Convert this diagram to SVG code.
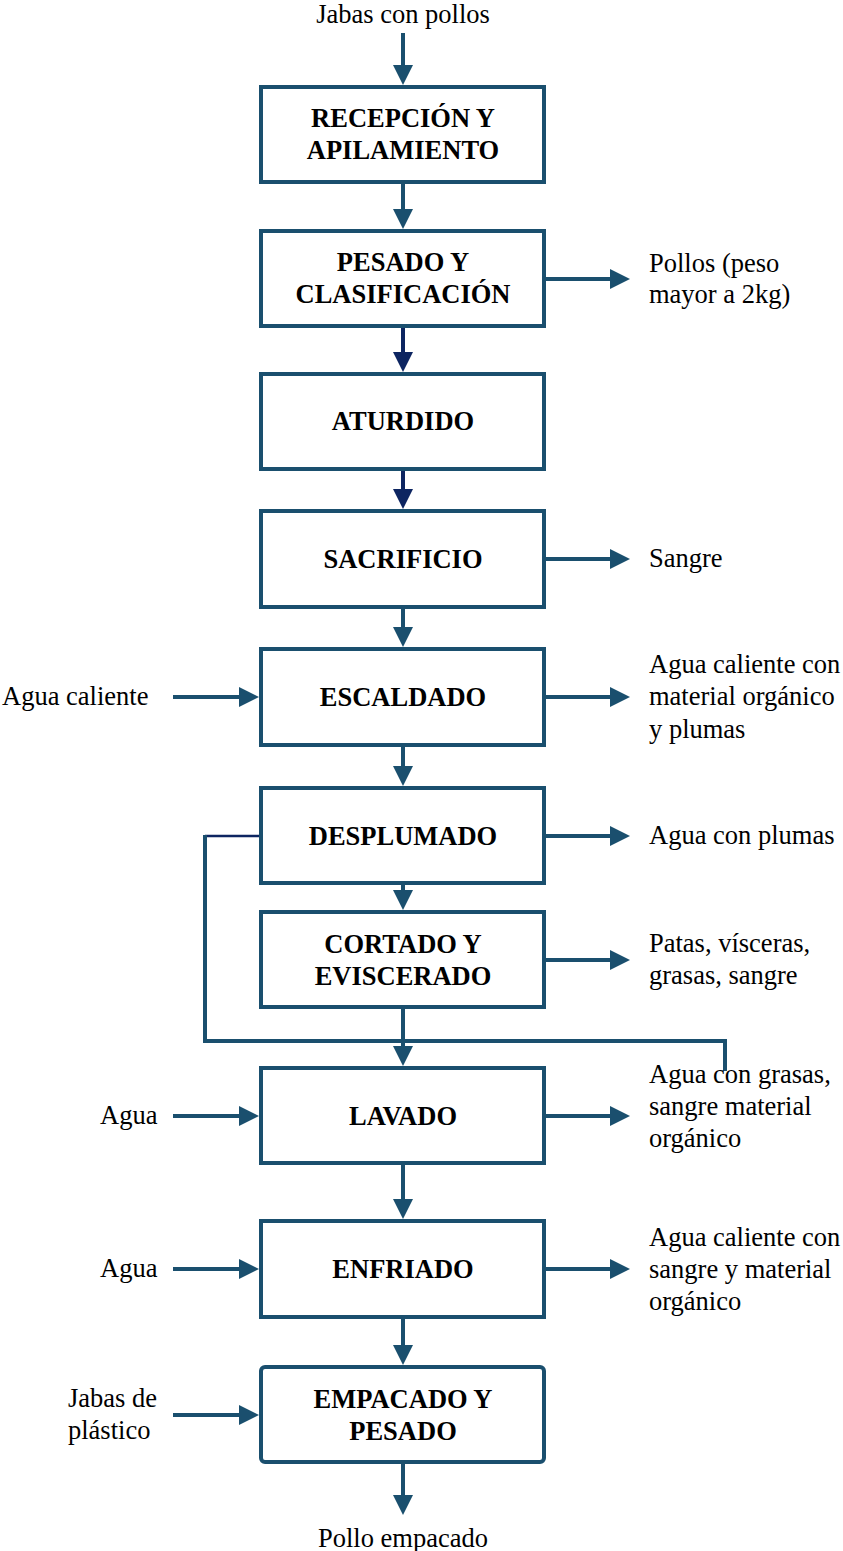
<svg xmlns="http://www.w3.org/2000/svg" width="843" height="1551" viewBox="0 0 843 1551">
  <style>
    .box { fill: #ffffff; stroke: #1a4f6e; stroke-width: 4; }
    .title { font-family: "Liberation Serif", "Times New Roman", serif; font-weight: bold; font-size: 26.5px; fill: #000; text-anchor: middle; }
    .label { font-family: "Liberation Serif", "Times New Roman", serif; font-size: 26.5px; fill: #000; }
    .flow { stroke: #1a4f6e; stroke-width: 4; fill: none; marker-end: url(#head); }
    .flow-dark { stroke: #0d2561; stroke-width: 4; fill: none; marker-end: url(#head-dark); }
    .pipe { stroke: #1a4f6e; stroke-width: 4; fill: none; }
  </style>
  <defs>
    <marker id="head" markerUnits="userSpaceOnUse" markerWidth="20" markerHeight="20" refX="0" refY="10" orient="auto">
      <path d="M0,0 L20,10 L0,20 Z" fill="#1a4f6e"/>
    </marker>
    <marker id="head-dark" markerUnits="userSpaceOnUse" markerWidth="20" markerHeight="20" refX="0" refY="10" orient="auto">
      <path d="M0,0 L20,10 L0,20 Z" fill="#0d2561"/>
    </marker>
  </defs>
  <rect width="843" height="1551" fill="#ffffff"/>

  <!-- connectors -->
  <g id="connectors">
    <line class="flow" x1="403" y1="33" x2="403" y2="65"/>
    <line class="flow" x1="403" y1="182" x2="403" y2="209"/>
    <line class="flow-dark" x1="403" y1="326" x2="403" y2="352"/>
    <line class="flow-dark" x1="403" y1="469" x2="403" y2="489"/>
    <line class="flow" x1="403" y1="607" x2="403" y2="627"/>
    <line class="flow" x1="403" y1="745" x2="403" y2="766"/>
    <line class="flow" x1="403" y1="883" x2="403" y2="890"/>
    <line class="flow" x1="403" y1="1007" x2="403" y2="1046"/>
    <line class="flow" x1="403" y1="1163" x2="403" y2="1199"/>
    <line class="flow" x1="403" y1="1317" x2="403" y2="1345"/>
    <line class="flow" x1="403" y1="1462" x2="403" y2="1495"/>

    <!-- side outputs -->
    <line class="flow" x1="544" y1="279" x2="610" y2="279"/>
    <line class="flow" x1="544" y1="559" x2="610" y2="559"/>
    <line class="flow" x1="544" y1="697" x2="610" y2="697"/>
    <line class="flow" x1="544" y1="836" x2="610" y2="836"/>
    <line class="flow" x1="544" y1="960" x2="610" y2="960"/>
    <line class="flow" x1="544" y1="1116" x2="610" y2="1116"/>
    <line class="flow" x1="544" y1="1269" x2="610" y2="1269"/>

    <!-- side inputs -->
    <line class="flow" x1="173" y1="697" x2="239" y2="697"/>
    <line class="flow" x1="173" y1="1116" x2="239" y2="1116"/>
    <line class="flow" x1="173" y1="1269" x2="239" y2="1269"/>
    <line class="flow" x1="173" y1="1415" x2="239" y2="1415"/>

    <!-- water return line from plucking -->
    <line x1="259" y1="836" x2="205" y2="836" stroke="#0d2561" stroke-width="2.5"/>
    <path class="pipe" d="M205,835 L205,1041 L725,1041 L725,1071"/>
  </g>

  <!-- nodes -->
  <g id="recepcion">
    <rect class="box" x="261" y="87" width="283" height="95"/>
    <text class="title" x="403" y="127">RECEPCIÓN Y</text>
    <text class="title" x="403" y="159">APILAMIENTO</text>
  </g>
  <g id="pesado-clasificacion">
    <rect class="box" x="261" y="231" width="283" height="95"/>
    <text class="title" x="403" y="271">PESADO Y</text>
    <text class="title" x="403" y="303">CLASIFICACIÓN</text>
  </g>
  <g id="aturdido">
    <rect class="box" x="261" y="374" width="283" height="95"/>
    <text class="title" x="403" y="430">ATURDIDO</text>
  </g>
  <g id="sacrificio">
    <rect class="box" x="261" y="511" width="283" height="96"/>
    <text class="title" x="403" y="568">SACRIFICIO</text>
  </g>
  <g id="escaldado">
    <rect class="box" x="261" y="649" width="283" height="96"/>
    <text class="title" x="403" y="706">ESCALDADO</text>
  </g>
  <g id="desplumado">
    <rect class="box" x="261" y="788" width="283" height="95"/>
    <text class="title" x="403" y="845">DESPLUMADO</text>
  </g>
  <g id="cortado-eviscerado">
    <rect class="box" x="261" y="912" width="283" height="95"/>
    <text class="title" x="403" y="953">CORTADO Y</text>
    <text class="title" x="403" y="985">EVISCERADO</text>
  </g>
  <g id="lavado">
    <rect class="box" x="261" y="1068" width="283" height="95"/>
    <text class="title" x="403" y="1125">LAVADO</text>
  </g>
  <g id="enfriado">
    <rect class="box" x="261" y="1221" width="283" height="96"/>
    <text class="title" x="403" y="1278">ENFRIADO</text>
  </g>
  <g id="empacado-pesado">
    <rect class="box" x="261" y="1367" width="283" height="95" rx="4"/>
    <text class="title" x="403" y="1408">EMPACADO Y</text>
    <text class="title" x="403" y="1440">PESADO</text>
  </g>

  <!-- stream labels -->
  <g id="labels">
    <text class="label" x="403" y="23" text-anchor="middle">Jabas con pollos</text>
    <text class="label" x="403" y="1547" text-anchor="middle">Pollo empacado</text>

    <text class="label" x="649" y="272">Pollos (peso</text>
    <text class="label" x="649" y="303">mayor a 2kg)</text>
    <text class="label" x="649" y="567">Sangre</text>
    <text class="label" x="649" y="673">Agua caliente con</text>
    <text class="label" x="649" y="705">material orgánico</text>
    <text class="label" x="649" y="738">y plumas</text>
    <text class="label" x="649" y="844">Agua con plumas</text>
    <text class="label" x="649" y="952">Patas, vísceras,</text>
    <text class="label" x="649" y="984">grasas, sangre</text>
    <text class="label" x="649" y="1083">Agua con grasas,</text>
    <text class="label" x="649" y="1115">sangre material</text>
    <text class="label" x="649" y="1147">orgánico</text>
    <text class="label" x="649" y="1246">Agua caliente con</text>
    <text class="label" x="649" y="1278">sangre y material</text>
    <text class="label" x="649" y="1310">orgánico</text>

    <text class="label" x="2" y="705">Agua caliente</text>
    <text class="label" x="100" y="1124">Agua</text>
    <text class="label" x="100" y="1277">Agua</text>
    <text class="label" x="68" y="1407">Jabas de</text>
    <text class="label" x="68" y="1439">plástico</text>
  </g>
</svg>
